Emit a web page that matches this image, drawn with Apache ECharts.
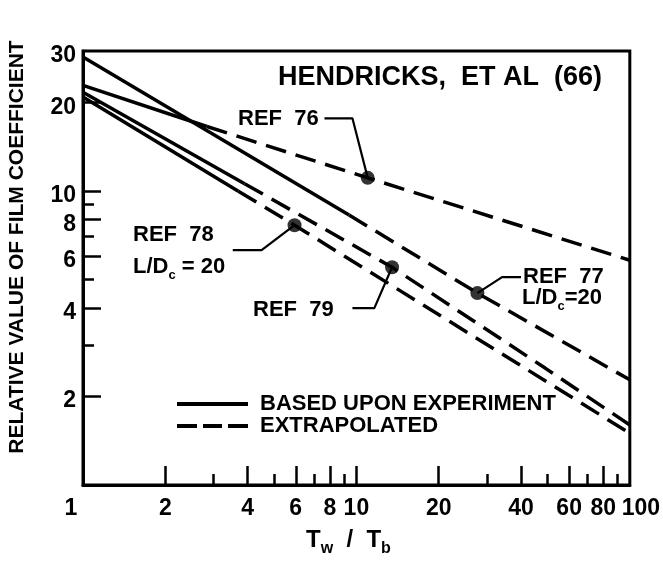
<!DOCTYPE html>
<html><head><meta charset="utf-8">
<script src="https://cdn.jsdelivr.net/npm/echarts@6/dist/echarts.min.js"></script>
<style>html,body{margin:0;padding:0;background:#fff}#c{width:663px;height:571px}</style>
</head><body><div id="c"></div>
<script>
// ---- tick / label values (real units) ----
const xMajorTicks = [2, 4, 6, 8, 10, 20, 40, 60, 80];
const xMinorTicks = [3, 5, 7, 9, 30, 50, 70, 90];
const xTickLabels = [1, 2, 4, 6, 8, 10, 20, 40, 60, 80, 100];
const yMajorTicks = [2, 4, 6, 8, 10, 20];
const yMinorTicks = [3, 5, 7, 9];
const yTickLabels = [2, 4, 6, 8, 10, 20, 30];

// ---- curves: [Tw/Tb, relative film coefficient] ----
const ref76Solid  = [[1, 22.9], [2.84, 16.6]];
const ref76Dashed = [[2.84, 16.6], [11.0, 11.1], [100, 5.82]];
const ref77Solid  = [[1, 28.6], [9.4, 8.3]];
const ref77Dashed = [[9.4, 8.3], [27.7, 4.5], [100, 2.28]];
const ref78Solid  = [[1, 20.9], [3.7, 10.0]];
const ref78Dashed = [[3.7, 10.0], [5.94, 7.66], [100, 1.5]];
const ref79Solid  = [[1, 21.7], [3.9, 10.6]];
const ref79Dashed = [[3.9, 10.6], [13.5, 5.51], [49, 2.5], [100, 1.6]];

// ---- reference points (dots) ----
const refDots = [[11.0, 11.1], [27.7, 4.5], [5.94, 7.66], [13.5, 5.51]];

// ---- annotation leader lines ----
const leader76 = [[7.64, 17.7], [9.67, 17.7], [11.0, 11.1]];
const leader77 = [[27.7, 4.5], [34.1, 5.1], [40.0, 5.1]];
const leader78 = [[3.53, 6.3], [4.5, 6.3], [5.94, 7.66]];
const leader79 = [[9.67, 4.0], [11.63, 4.0], [13.5, 5.51]];

const L = v => Math.log10(v);
const tr = arr => arr.map(p => [L(p[0]), L(p[1])]);

const FONT = 'Liberation Sans';
const BLACK = '#000';
const DASH = [21, 10];
const LW = 3.5;

function solid(data) {
  return { type: 'line', name: 'BASED UPON EXPERIMENT', data: tr(data), symbol: 'none',
    lineStyle: { color: BLACK, width: LW, type: 'solid' }, itemStyle: { color: BLACK }, z: 3, silent: true, animation: false };
}
function dashed(data) {
  return { type: 'line', name: 'EXTRAPOLATED', data: tr(data), symbol: 'none',
    lineStyle: { color: BLACK, width: LW, type: DASH }, itemStyle: { color: BLACK }, z: 3, silent: true, animation: false };
}
function leader(data) {
  return { type: 'line', name: 'leader', data: tr(data), symbol: 'none',
    lineStyle: { color: BLACK, width: 2.2 }, z: 2, silent: true, animation: false };
}

const chart = echarts.init(document.getElementById('c'), null, { renderer: 'canvas' });

const lbl = { fontSize: 23, fontWeight: 'bold', fontFamily: FONT, color: BLACK };
const xLabelFmt = v => {
  const n = Math.round(Math.pow(10, v));
  if (n === 1) return '{l|1}';
  if (n === 100) return '{r|100}';
  return '{n|' + n + '}';
};
const yLabelFmt = v => '{v|' + Math.round(Math.pow(10, v)) + '}';

const subRich = {
  a: { fontSize: 22, fontWeight: 'bold', fontFamily: FONT, fill: BLACK, lineHeight: 30, verticalAlign: 'middle' },
  s: { fontSize: 13, fontWeight: 'bold', fontFamily: FONT, fill: BLACK, lineHeight: 30, verticalAlign: 'bottom' }
};

const option = {
  backgroundColor: '#fff',
  animation: false,
  grid: { left: 83, top: 51, right: 32, bottom: 86, show: true, borderColor: BLACK, borderWidth: 3, backgroundColor: 'transparent' },
  xAxis: [
    {
      type: 'value', min: 0, max: 2,
      axisLine: { show: true, onZero: false, lineStyle: { color: BLACK, width: 3 } },
      axisTick: { show: true, inside: true, length: 19, customValues: xMajorTicks.map(L), lineStyle: { color: BLACK, width: 2.5 } },
      axisLabel: { show: true, customValues: xTickLabels.map(L), formatter: xLabelFmt, margin: 12,
        rich: {
          n: Object.assign({}, lbl),
          l: Object.assign({ padding: [0, 24, 0, 0] }, lbl),
          r: Object.assign({ padding: [0, 0, 0, 22] }, lbl)
        } },
      splitLine: { show: false }
    },
    {
      type: 'value', min: 0, max: 2, position: 'bottom',
      axisLine: { show: false },
      axisTick: { show: true, inside: true, length: 11, customValues: xMinorTicks.map(L), lineStyle: { color: BLACK, width: 2.5 } },
      axisLabel: { show: false },
      splitLine: { show: false }
    }
  ],
  yAxis: [
    {
      type: 'value', min: 0, max: L(30),
      axisLine: { show: true, onZero: false, lineStyle: { color: BLACK, width: 3 } },
      axisTick: { show: true, inside: true, length: 18, customValues: yMajorTicks.map(L), lineStyle: { color: BLACK, width: 2.5 } },
      axisLabel: { show: true, customValues: yTickLabels.map(L), formatter: yLabelFmt, margin: 7,
        rich: { v: Object.assign({ padding: [9, 0, 0, 0] }, lbl) } },
      splitLine: { show: false }
    },
    {
      type: 'value', min: 0, max: L(30), position: 'left',
      axisLine: { show: false },
      axisTick: { show: true, inside: true, length: 11, customValues: yMinorTicks.map(L), lineStyle: { color: BLACK, width: 2.5 } },
      axisLabel: { show: false },
      splitLine: { show: false }
    }
  ],
  legend: {
    show: true, orient: 'vertical', left: 177, top: 393, padding: 0, itemGap: 0,
    itemWidth: 71, itemHeight: 4, selectedMode: false,
    data: [
      { name: 'BASED UPON EXPERIMENT', icon: 'path://M0,0h71v4h-71z' },
      { name: 'EXTRAPOLATED', icon: 'path://M0,0h20v4h-20zM26,0h19v4h-19zM51,0h20v4h-20z' }
    ],
    itemStyle: { color: BLACK, borderWidth: 0 },
    textStyle: { fontSize: 22, fontWeight: 'bold', fontFamily: FONT, color: BLACK, lineHeight: 21, padding: [0, 0, 0, 7] }
  },
  series: [
    solid(ref76Solid), dashed(ref76Dashed),
    solid(ref77Solid), dashed(ref77Dashed),
    solid(ref78Solid), dashed(ref78Dashed),
    solid(ref79Solid), dashed(ref79Dashed),
    leader(leader76), leader(leader77), leader(leader78), leader(leader79),
    { type: 'scatter', name: 'refs', data: tr(refDots), symbol: 'circle', symbolSize: 14,
      itemStyle: { color: BLACK }, z: 5, silent: true, animation: false }
  ],
  graphic: [
    { type: 'text', left: 278, top: 64, style: { text: 'HENDRICKS,  ET AL  (66)', fontSize: 27, fontWeight: 'bold', fontFamily: FONT, fill: BLACK } },
    { type: 'text', left: 238, top: 108, style: { text: 'REF  76', fontSize: 22, fontWeight: 'bold', fontFamily: FONT, fill: BLACK } },
    { type: 'text', left: 133, top: 224, style: { text: 'REF  78', fontSize: 22, fontWeight: 'bold', fontFamily: FONT, fill: BLACK } },
    { type: 'text', left: 133, top: 256, style: { text: '{a|L/D}{s|c}{a| = 20}', rich: subRich } },
    { type: 'text', left: 253, top: 299, style: { text: 'REF  79', fontSize: 22, fontWeight: 'bold', fontFamily: FONT, fill: BLACK } },
    { type: 'text', left: 523, top: 266, style: { text: 'REF  77', fontSize: 22, fontWeight: 'bold', fontFamily: FONT, fill: BLACK } },
    { type: 'text', left: 522, top: 287, style: { text: '{a|L/D}{s|c}{a|=20}', rich: subRich } },
    { type: 'text', x: 17, y: 247, rotation: Math.PI / 2, style: { text: 'RELATIVE VALUE OF FILM COEFFICIENT', fontSize: 21, fontWeight: 'bold', fontFamily: FONT, fill: BLACK, align: 'center', verticalAlign: 'middle' } },
    { type: 'text', left: 306, top: 528, style: { text: '{t|T}{s|w}{t|  /  T}{s|b}', rich: {
        t: { fontSize: 24, fontWeight: 'bold', fontFamily: FONT, fill: BLACK, lineHeight: 34, verticalAlign: 'middle' },
        s: { fontSize: 16, fontWeight: 'bold', fontFamily: FONT, fill: BLACK, lineHeight: 34, verticalAlign: 'bottom' } } } }
  ]
};
chart.setOption(option);
</script>
</body></html>
